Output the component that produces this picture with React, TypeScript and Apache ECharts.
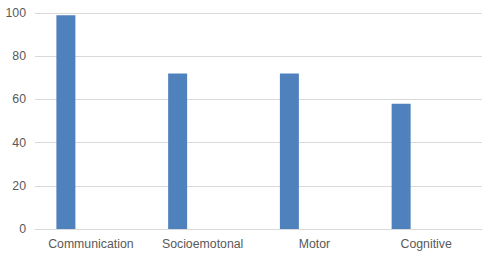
import React, { useEffect, useRef } from "react";
import * as echarts from "echarts";

const categories = ["Communication", "Socioemotonal", "Motor", "Cognitive"];
const scores = [99, 72, 72, 58];
const emptySeries = [null, null, null, null];
const yTicks = { min: 0, max: 100, interval: 20 };

export default function App() {
  const ref = useRef<HTMLDivElement>(null);
  useEffect(() => {
    if (!ref.current) return;
    const chart = echarts.init(ref.current, null, { renderer: "svg" });
    chart.setOption({
      animation: false,
      backgroundColor: "#ffffff",
      grid: { left: 35, right: 13, top: 13, bottom: 37, containLabel: false },
      xAxis: {
        type: "category",
        data: categories,
        axisLine: { show: true, lineStyle: { color: "#d9d9d9", width: 1 } },
        axisTick: { show: false },
        axisLabel: {
          color: "#595959",
          fontFamily: "Liberation Sans, Arial, sans-serif",
          fontSize: 12.3,
          margin: 9,
          interval: 0,
        },
      },
      yAxis: {
        type: "value",
        min: yTicks.min,
        max: yTicks.max,
        interval: yTicks.interval,
        axisLine: { show: false },
        axisTick: { show: false },
        splitLine: { lineStyle: { color: "#d9d9d9", width: 1 } },
        axisLabel: {
          color: "#595959",
          fontFamily: "Liberation Sans, Arial, sans-serif",
          fontSize: 12.3,
          margin: 9,
        },
      },
      series: [
        {
          type: "bar",
          data: scores,
          barWidth: 19,
          barGap: "163%",
          itemStyle: { color: "#4f81bd" },
        },
        {
          type: "bar",
          data: emptySeries,
          barWidth: 19,
          itemStyle: { color: "#c0504d" },
        },
      ],
    });
    return () => chart.dispose();
  }, []);
  return (
    <div style={{ position: "fixed", left: 0, top: 0, width: 495, height: 266 }}>
      <div ref={ref} style={{ width: 495, height: 266 }} />
    </div>
  );
}
